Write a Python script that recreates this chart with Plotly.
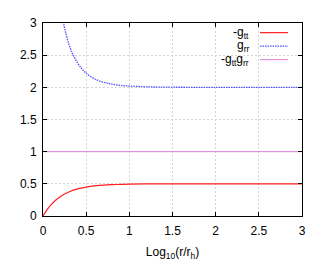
import plotly.graph_objects as go

# -g_tt
x_gtt = [0, 0.05, 0.1, 0.15, 0.2, 0.25, 0.3, 0.4, 0.5, 0.6, 0.7, 0.8, 0.9, 1.0, 1.2, 1.5, 2.0, 2.5, 3.0]
y_gtt = [0, 0.103, 0.185, 0.249, 0.301, 0.342, 0.374, 0.421, 0.45, 0.468, 0.48, 0.487, 0.492, 0.495, 0.498, 0.4995, 0.5, 0.5, 0.5]

# g_rr
x_grr = [0.2, 0.22, 0.24, 0.25, 0.3, 0.35, 0.4, 0.45, 0.5, 0.6, 0.7, 0.8, 0.9, 1.0, 1.2, 1.5, 2.0, 2.5, 3.0]
y_grr = [3.33, 3.16, 2.99, 2.92, 2.67, 2.5, 2.38, 2.29, 2.22, 2.13, 2.08, 2.05, 2.03, 2.02, 2.008, 2.002, 2.0, 2.0, 2.0]

# -g_tt g_rr
x_prod = [0, 3.0]
y_prod = [1, 1]

labels = ["-g<sub>tt</sub>", "g<sub>rr</sub>", "-g<sub>tt</sub>g<sub>rr</sub>"]
colors = ["#ff2020", "#5050ff", "#e07ee0"]
dashes = ["solid", "1.5px,1px", "solid"]
widths = [1.2, 1.3, 1.0]
xticks = [0, 0.5, 1, 1.5, 2, 2.5, 3]
yticks = [0, 0.5, 1, 1.5, 2, 2.5, 3]

fig = go.Figure()
for xs, ys, c, d, w in zip([x_gtt, x_grr, x_prod], [y_gtt, y_grr, y_prod], colors, dashes, widths):
    fig.add_trace(go.Scatter(x=xs, y=ys, mode="lines", line=dict(color=c, dash=d, width=w, shape="spline"),
                             showlegend=False, hoverinfo="skip"))

# gnuplot-style legend (text right, sample on right)
leg_y = [0.95, 0.88, 0.81]
for lab, c, d, w, ly in zip(labels, colors, dashes, widths, leg_y):
    fig.add_annotation(x=0.805, y=ly, xref="paper", yref="paper", text=lab, showarrow=False,
                       xanchor="right", yanchor="middle", font=dict(size=12, color="#000000"))
    fig.add_shape(type="line", xref="paper", yref="paper", x0=0.838, x1=0.946, y0=ly, y1=ly,
                  line=dict(color=c, dash=d, width=w))

axis_common = dict(
    showline=True, linecolor="black", linewidth=1, mirror="ticks",
    ticks="inside", ticklen=4, tickcolor="black", tickwidth=1,
    showgrid=True, gridcolor="#d4d4d4", griddash="2px,2px", gridwidth=1,
    zeroline=False, tickfont=dict(size=12, color="#000000"),
)
fig.update_xaxes(range=[0, 3], tickvals=xticks, ticktext=[str(t) for t in xticks],
                 ticklabelstandoff=4,
                 title=dict(text="Log<sub>10</sub>(r/r<sub>h</sub>)", font=dict(size=12, color="#000000"), standoff=10),
                 **axis_common)
fig.update_yaxes(range=[0, 3], tickvals=yticks, ticktext=[str(t) for t in yticks],
                 ticklabelstandoff=3, **axis_common)

fig.update_layout(
    width=314, height=265,
    margin=dict(l=35, r=20, t=8, b=57),
    paper_bgcolor="white", plot_bgcolor="white",
    font=dict(family="Liberation Sans, Arial, sans-serif", size=12, color="#000000"),
)
fig.write_html("out.html")
